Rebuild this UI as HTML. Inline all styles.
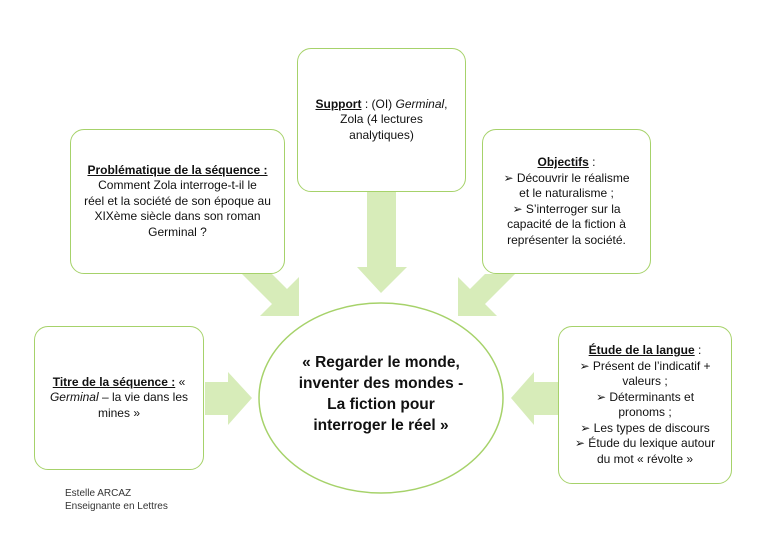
<!DOCTYPE html>
<html><head><meta charset="utf-8"><style>
body{margin:0;width:768px;height:543px;background:#fff;position:relative;overflow:hidden;font-family:"Liberation Sans",sans-serif;color:#111}
.b{position:absolute;border:1.5px solid #a6d26a;border-radius:14px;background:#fff;box-sizing:border-box;display:flex;flex-direction:column;justify-content:center;align-items:center;text-align:center;font-size:12px;line-height:15.5px;padding:0 6px}
u{font-weight:bold}
svg{position:absolute;left:0;top:0}
.l{display:block}
</style></head><body>
<svg width="768" height="543">
<g fill="#d7ecb9">
<polygon points="367,192 396,192 396,267 407,267 381,293 357,267 367,267"/>
<polygon points="242,274 272,274 287,289 299,277 299,316 260,316 272,304"/>
<polygon points="515,274 485,274 470,289 458,277 458,316 497,316 485,304"/>
<polygon points="205,382 228,382 228,372 252,398 228,425 228,415 205,415"/>
<polygon points="559,382 534,382 534,372 511,398 534,425 534,415 559,415"/>
</g>
<ellipse cx="381" cy="398" rx="122" ry="95" fill="#fff" stroke="#a6d26a" stroke-width="1.5"/>
</svg>
<div class="b" style="left:297px;top:48px;width:169px;height:144px"><div><u>Support</u> : (OI) <i>Germinal</i>,<br>Zola (4 lectures<br>analytiques)</div></div>
<div class="b" style="left:70px;top:129px;width:215px;height:145px"><div><u>Problématique de la séquence :</u><br>Comment Zola interroge-t-il le<br>réel et la société de son époque au<br>XIXème siècle dans son roman<br>Germinal ?</div></div>
<div class="b" style="left:482px;top:129px;width:169px;height:145px"><div><u>Objectifs</u> :<br>➢ Découvrir le réalisme<br>et le naturalisme ;<br>➢ S’interroger sur la<br>capacité de la fiction à<br>représenter la société.</div></div>
<div class="b" style="left:34px;top:326px;width:170px;height:144px"><div><u>Titre de la séquence :</u> «<br><i>Germinal</i> – la vie dans les<br>mines »</div></div>
<div class="b" style="left:558px;top:326px;width:174px;height:158px"><div><u>Étude de la langue</u> :<br>➢ Présent de l’indicatif +<br>valeurs ;<br>➢ Déterminants et<br>pronoms ;<br>➢ Les types de discours<br>➢ Étude du lexique autour<br>du mot « révolte »</div></div>
<div style="position:absolute;left:270px;top:352px;width:222px;text-align:center;font-weight:bold;font-size:15.5px;line-height:21px">« Regarder le monde,<br>inventer des mondes -<br>La fiction pour<br>interroger le réel »</div>
<div style="position:absolute;left:65px;top:487px;font-size:10px;line-height:13px;color:#333">Estelle ARCAZ<br>Enseignante en Lettres</div>
</body></html>
